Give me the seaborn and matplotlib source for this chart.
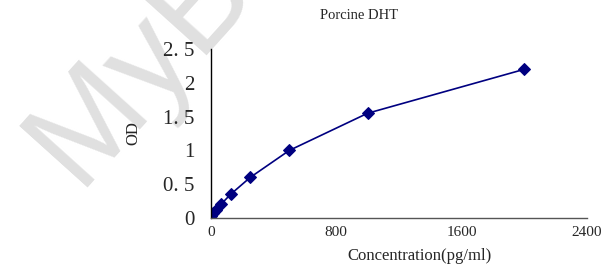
import matplotlib
matplotlib.use("Agg")
import matplotlib.pyplot as plt
import seaborn as sns
import pandas as pd

concentration = [0, 15.6, 31.25, 62.5, 125, 250, 500, 1000, 2000]
od = [0.03, 0.08, 0.12, 0.2, 0.35, 0.6, 1.0, 1.55, 2.2]
x_ticks = [0, 800, 1600, 2400]
y_ticks = [0, 0.5, 1, 1.5, 2, 2.5]
y_tick_labels = ["0", "0. 5", "1", "1. 5", "2", "2. 5"]

df = pd.DataFrame({"conc": concentration, "od": od})

sns.set_style("white")
plt.rcParams['font.family'] = ['Liberation Serif', 'DejaVu Serif']

fig = plt.figure(figsize=(6.09, 2.66), dpi=100)

# watermark, kept behind everything
fig.text(0.126, 0.297, "MyBio", fontsize=96, color="#e0e0e0", rotation=48,
         rotation_mode="anchor", ha="left", va="baseline",
         family="Liberation Sans", zorder=-5)

ax = fig.add_axes([0.3465, 0.1805, 0.617, 0.635])
ax.patch.set_alpha(0)
sns.lineplot(data=df, x="conc", y="od", ax=ax, color="#000080", linewidth=1.2,
             marker="D", markersize=6.5, markeredgecolor="#000080")

ax.set_xlim(0, 2400)
ax.set_ylim(0, 2.5)
ax.set_xticks(x_ticks)
ax.set_yticks(y_ticks)
ax.set_yticklabels(y_tick_labels, fontsize=15)
ax.tick_params(axis="x", labelsize=11, direction="in", length=5, width=0.8, pad=6)
ax.tick_params(axis="y", direction="in", length=5, width=0.8, pad=12)
ax.spines["top"].set_visible(False)
ax.spines["right"].set_visible(False)
ax.spines["left"].set_linewidth(1)
ax.spines["bottom"].set_linewidth(1)
ax.spines["left"].set_color("black")
ax.spines["bottom"].set_color("#555555")

ax.set_xlabel("Concentration(pg/ml)", fontsize=12)
ax.xaxis.set_label_coords(0.556, -0.18)
ax.set_ylabel("OD", fontsize=12)
ax.yaxis.set_label_coords(-0.185, 0.5)
fig.text(0.59, 0.94, "Porcine DHT", fontsize=10.5, ha="center", va="center")

fig.savefig("out.png", dpi=100)
